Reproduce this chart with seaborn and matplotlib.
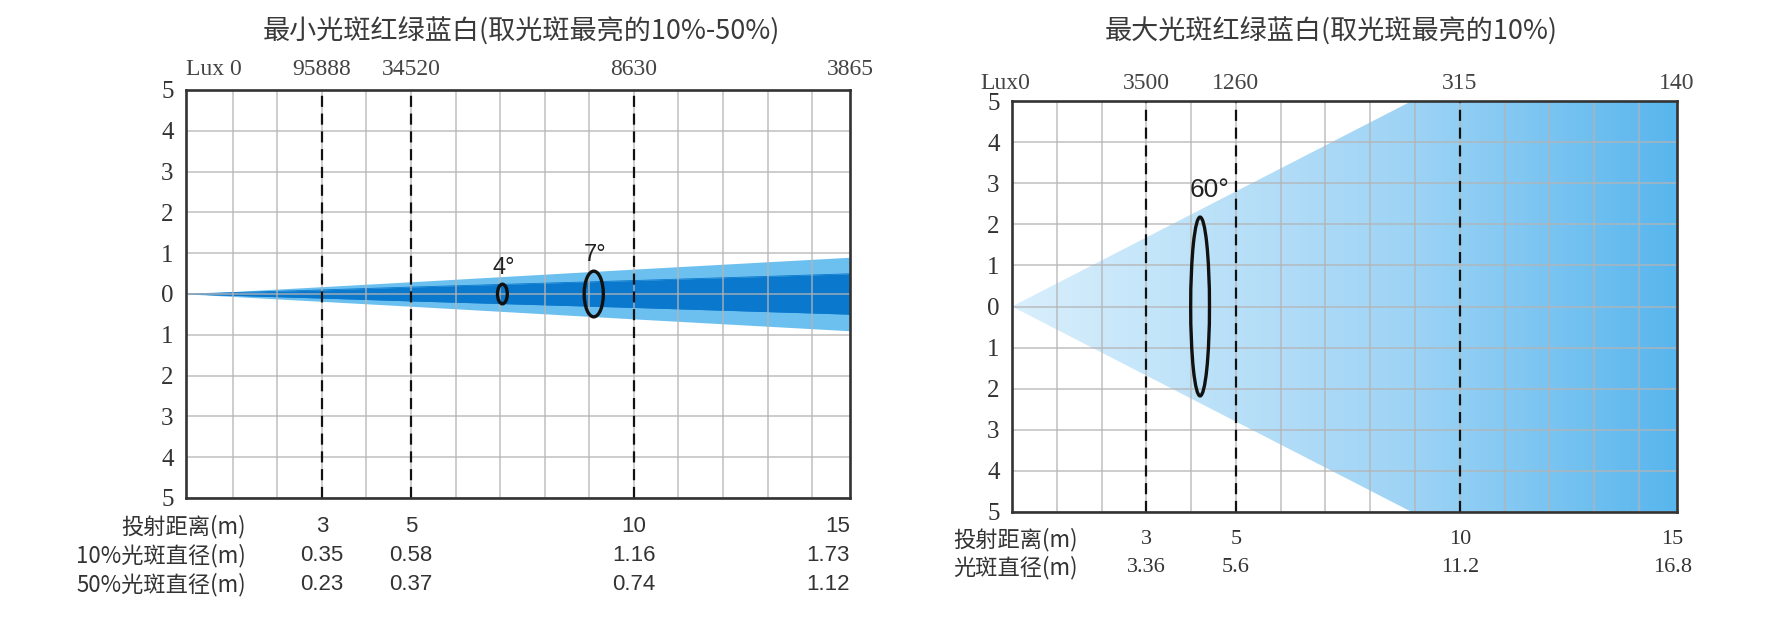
import matplotlib
matplotlib.use('Agg')
import matplotlib.pyplot as plt
import matplotlib.transforms as mtransforms
from matplotlib.patches import Ellipse
from matplotlib.colors import LinearSegmentedColormap
import numpy as np
import pandas as pd
import seaborn as sns

# ---- left chart: smallest spot ----
min_title = '最小光斑红绿蓝白(取光斑最亮的10%-50%)'
min_dist = [3, 5, 10, 15]
min_lux = ['95888', '34520', '8630', '3865']
min_d10 = ['0.35', '0.58', '1.16', '1.73']
min_d50 = ['0.23', '0.37', '0.74', '1.12']
min_rows = ['投射距离(m)', '10%光斑直径(m)', '50%光斑直径(m)']
# beam half widths as drawn (m)
min_outer = [0.18, 0.30, 0.61, 0.91]
min_inner = [0.10, 0.17, 0.33, 0.50]
min_angles = ['4°', '7°']
min_angle_x = [7.05, 9.1]
min_angle_w = [0.22, 0.43]
min_angle_h = [0.48, 1.12]

# ---- right chart: largest spot ----
max_title = '最大光斑红绿蓝白(取光斑最亮的10%)'
max_dist = [3, 5, 10, 15]
max_lux = ['3500', '1260', '315', '140']
max_diam = ['3.36', '5.6', '11.2', '16.8']
max_rows = ['投射距离(m)', '光斑直径(m)']
max_angle = '60°'
max_angle_x = 4.2
max_angle_w = 0.42
max_angle_h = 4.35

sns.set_theme(style='white')
plt.rcParams['font.family'] = ['Noto Sans CJK SC', 'DejaVu Sans']

W, H = 1769, 618
fig = plt.figure(figsize=(W / 100, H / 100), dpi=100)
ax1 = fig.add_axes([186 / W, (H - 498) / H, 664 / W, 408 / H])
ax2 = fig.add_axes([1012 / W, (H - 512) / H, 665 / W, 411 / H])

XMAX = 14.85
txt = '#333333'
lux_font = dict(family='Liberation Serif', fontsize=17, color='#444444')


def setup(ax, xmin, dist):
    ax.set_xlim(xmin, XMAX)
    ax.set_ylim(-5, 5)
    ax.set_xticks(range(1, 15))
    ax.set_xticklabels([])
    ax.set_yticks(range(-5, 6))
    ax.set_yticklabels([str(abs(v)) for v in range(-5, 6)],
                       family='Liberation Serif', fontsize=18, color=txt)
    ax.tick_params(length=0, pad=9)
    ax.grid(True, color='#b4b4b4', lw=1.1, alpha=0.85)
    ax.set_axisbelow(False)
    for s in ax.spines.values():
        s.set_color('#333333')
        s.set_linewidth(1.9)
        s.set_zorder(6)
    for d in dist[:-1]:
        ax.axvline(d, color='#111111', lw=1.6, dashes=(5, 3), zorder=4)


# left chart
setup(ax1, -0.05, min_dist)
bx = [0] + min_dist
outer = [0] + min_outer
inner = [0] + min_inner
ax1.fill_between(bx, [-v for v in outer], outer, color='#6cc0f0', lw=0, zorder=1)
ax1.fill_between(bx, [-v for v in inner], inner, color='#0a78cc', lw=0, zorder=1.5)
edges = pd.DataFrame({'x': bx, 'up': inner, 'dn': [-v for v in inner]})
sns.lineplot(data=edges, x='x', y='up', color='#0a78cc', lw=0.6, ax=ax1, zorder=1.6)
sns.lineplot(data=edges, x='x', y='dn', color='#0a78cc', lw=0.6, ax=ax1, zorder=1.6)
ax1.set_xlabel('')
ax1.set_ylabel('')
for lab, x, w, h in zip(min_angles, min_angle_x, min_angle_w, min_angle_h):
    ax1.add_patch(Ellipse((x, 0), w, h, fill=False, ec='#111111', lw=2.4, zorder=5))
    ax1.annotate(lab, (x, h / 2), xytext=(1, 4), textcoords='offset points',
                 ha='center', va='bottom', family='Liberation Sans', fontsize=17,
                 color='#222222', zorder=7)

tr1 = mtransforms.blended_transform_factory(ax1.transData, ax1.transAxes)
ax1.text(-0.05, 1.05, 'Lux 0', transform=tr1, ha='left', va='center', **lux_font)
for d, lux in zip(min_dist, min_lux):
    ax1.text(min(d, XMAX), 1.05, lux, transform=tr1, ha='center', va='center',
             **lux_font)
fig.text(521 / W, 1 - 32 / H, min_title, ha='center', va='center',
         fontsize=19.5, color='#3a3a3a')

row_y1 = [-0.071, -0.142, -0.213]
cols1 = [[str(d) for d in min_dist], min_d10, min_d50]
for ry, lab, vals in zip(row_y1, min_rows, cols1):
    ax1.text(1.3, ry, lab, transform=tr1, ha='right', va='center',
             fontsize=16, color=txt)
    for d, v in zip(min_dist, vals):
        if d >= XMAX:
            ax1.text(XMAX, ry, v, transform=tr1, ha='right', va='center',
                     family='Liberation Sans', fontsize=16, color=txt)
        else:
            ax1.text(d, ry, v, transform=tr1, ha='center', va='center',
                     family='Liberation Sans', fontsize=16, color=txt)

# right chart
setup(ax2, 0, max_dist)
half = [float(v) / 2 for v in max_diam]
px = [0] + max_dist + max_dist[::-1] + [0]
py = [0] + half + [-v for v in half[::-1]] + [0]
clip = ax2.fill(px, py, facecolor='none', edgecolor='none', zorder=1)[0]
cmap = LinearSegmentedColormap.from_list(
    'beam', [(0, '#d9effc'), (0.6, '#9dd3f5'), (1, '#56b5ed')])
grad = np.linspace(0, 1, 256).reshape(1, -1)
im = ax2.imshow(grad, cmap=cmap, extent=(0, 15, -5, 5), aspect='auto',
                interpolation='bilinear', zorder=1)
im.set_clip_path(clip)
ax2.set_xlim(0, XMAX)
ax2.set_ylim(-5, 5)
ax2.add_patch(Ellipse((max_angle_x, 0), max_angle_w, max_angle_h, fill=False,
                      ec='#111111', lw=2.4, zorder=5))
ax2.annotate(max_angle, (max_angle_x, max_angle_h / 2), xytext=(7, 11),
             textcoords='offset points', ha='center', va='bottom',
             family='Liberation Sans', fontsize=19, color='#222222', zorder=7)

tr2 = mtransforms.blended_transform_factory(ax2.transData, ax2.transAxes)
ax2.text(-0.7, 1.042, 'Lux0', transform=tr2, ha='left', va='center', **lux_font)
for d, lux in zip(max_dist, max_lux):
    ax2.text(min(d, XMAX), 1.042, lux, transform=tr2, ha='center', va='center',
             **lux_font)
fig.text(1331 / W, 1 - 32 / H, max_title, ha='center', va='center',
         fontsize=19.5, color='#3a3a3a')

row_y2 = [-0.066, -0.136]
cols2 = [[str(d) for d in max_dist], max_diam]
for ry, lab, vals in zip(row_y2, max_rows, cols2):
    ax2.text(-1.32, ry, lab, transform=tr2, ha='left', va='center',
             fontsize=16, color=txt)
    for d, v in zip(max_dist, vals):
        ax2.text(min(d, XMAX - 0.1), ry, v, transform=tr2, ha='center',
                 va='center', family='Liberation Serif', fontsize=16, color=txt)

fig.savefig('out.png', dpi=100)
